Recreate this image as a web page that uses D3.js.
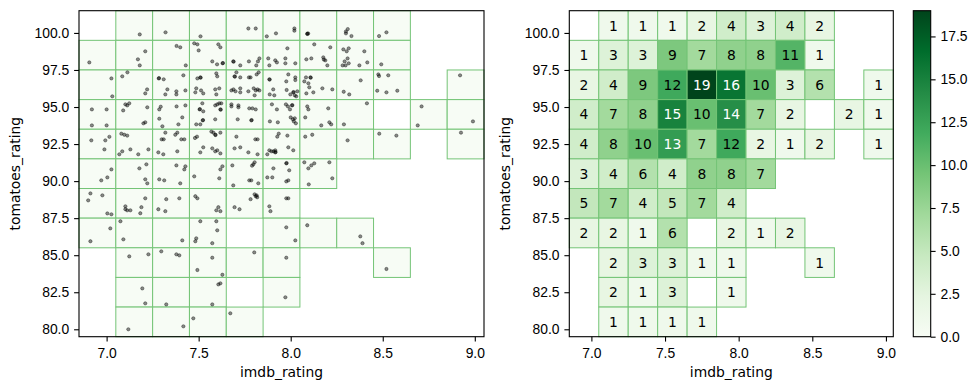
<!DOCTYPE html>
<html><head><meta charset="utf-8">
<script src="https://cdn.jsdelivr.net/npm/d3@7"></script>
<style>
html,body{margin:0;padding:0;background:#fff;}
svg{display:block;font-family:"DejaVu Sans",sans-serif;}
.tick text{font-size:13.89px;fill:#000;}
</style></head>
<body>
<svg id="chart" width="980" height="390"></svg>
<script>
// ---- data ----
const xTicks = [7.0, 7.5, 8.0, 8.5, 9.0];
const yTicks = [80.0, 82.5, 85.0, 87.5, 90.0, 92.5, 95.0, 97.5, 100.0];
const cbTicks = [0.0, 2.5, 5.0, 7.5, 10.0, 12.5, 15.0, 17.5];
const xEdges = [6.85, 7.05, 7.25, 7.45, 7.65, 7.85, 8.05, 8.25, 8.45, 8.65, 8.85, 9.05];
const yEdges = [101.5, 99.5, 97.5, 95.5, 93.5, 91.5, 89.5, 87.5, 85.5, 83.5, 81.5, 79.5];
// counts per cell, rows top (99.5-101.5) to bottom (79.5-81.5), columns left to right
const counts = [
  [0,1,1,1,2,4,3,4,2,0,0],
  [1,3,3,9,7,8,8,11,1,0,0],
  [2,4,9,12,19,16,10,3,6,0,1],
  [4,7,8,15,10,14,7,2,0,2,1],
  [4,8,10,13,7,12,2,1,2,0,1],
  [3,4,6,4,8,8,7,0,0,0,0],
  [5,7,4,5,7,4,0,0,0,0,0],
  [2,2,1,6,0,2,1,2,0,0,0],
  [0,2,3,3,1,1,0,0,1,0,0],
  [0,2,1,3,0,1,0,0,0,0,0],
  [0,1,1,1,1,0,0,0,0,0,0]
];
const greens = ["#f7fcf5","#e5f5e0","#c7e9c0","#a1d99b","#74c476","#41ab5d","#238b45","#006d2c","#00441b"];
const colorMax = 19;
// [imdb_rating, tomatoes_rating]
const points = [
[7.18,99.9],[7.32,100.04],[7.51,99.77],[7.77,100.3],[7.81,100.3],[7.87,99.77],[7.92,99.97],[8.02,100.3],[8.02,100.15],[8.09,99.95],[8.09,99.93],[8.095,99.96],[8.30,100.1],[8.31,100.26],[8.33,99.79],[8.30,99.97],[8.48,99.79],[8.52,100.04],
[6.906,98.01],
[7.17,98.22],[7.18,97.81],[7.21,98.76],
[7.38,99.12],[7.40,99.03],[7.43,97.81],
[7.476,99.30],[7.493,99.23],[7.50,98.82],[7.607,99.23],[7.618,99.03],[7.574,98.08],[7.60,97.88],[7.63,97.95],[7.632,97.97],
[7.688,98.08],[7.69,98.06],[7.726,97.81],[7.773,98.08],[7.813,97.81],[7.822,98.08],[7.83,98.28],
[7.878,98.28],[7.884,97.81],[7.916,98.15],[7.925,98.01],[7.971,98.28],[7.971,97.95],[7.982,98.96],[8.025,97.95],
[8.085,98.22],[8.112,98.28],[8.128,99.23],[8.177,98.35],[8.188,98.15],[8.199,97.81],[8.215,99.03],[8.18,98.2],
[8.286,98.89],[8.304,98.76],[8.315,98.96],[8.293,98.08],[8.309,98.28],[8.282,97.81],[8.298,97.81],[8.315,97.95],[8.373,97.81],[8.40,98.76],[8.416,98.01],
[8.492,97.88],
[7.026,96.93],[7.031,95.72],
[7.085,97.07],[7.113,97.34],[7.21,95.92],[7.22,96.19],
[7.283,96.93],[7.285,96.95],[7.31,96.87],[7.417,97.14],[7.33,96.19],[7.319,95.85],[7.379,96.06],[7.379,95.85],[7.428,96.12],
[7.493,96.93],[7.509,97.0],[7.511,96.98],[7.596,97.27],[7.601,97.07],[7.487,96.26],[7.482,95.99],[7.513,96.12],[7.525,95.92],[7.59,96.19],[7.612,96.26],[7.596,95.85],
[7.695,97.07],[7.697,97.05],[7.705,97.34],[7.726,97.0],[7.773,97.0],[7.782,97.0],[7.815,97.2],[7.826,97.34],[7.678,96.12],[7.689,96.19],[7.70,96.06],[7.726,96.26],[7.726,95.99],[7.799,96.26],[7.81,96.12],[7.82,96.19],[7.83,96.12],[7.804,95.79],[7.77,96.06],
[7.884,96.87],[7.886,96.85],[7.905,96.19],[7.911,95.79],[7.886,95.85],[7.976,96.73],[7.987,97.2],[8.025,97.0],[8.025,96.82],[7.998,95.85],[8.014,95.99],[8.016,96.01],[8.022,95.79],[8.03,95.72],[8.036,96.06],[7.978,96.15],
[8.074,96.73],[8.083,97.0],[8.107,97.0],[8.109,96.98],[8.101,96.33],[8.123,95.99],[8.085,95.92],[8.172,96.26],[8.226,96.19],[8.096,96.6],
[8.288,96.03],[8.318,95.85],[8.38,96.8],
[8.476,97.2],[8.48,97.09],[8.53,97.14],[8.47,96.1],[8.52,95.99],[8.579,96.1],
[8.92,97.14],
[6.92,94.84],[7.0,94.84],[6.92,93.76],[7.0,93.76],
[7.09,94.77],[7.102,95.18],[7.112,95.11],[7.123,95.25],[7.221,94.98],[7.2,93.9],[7.21,93.97],
[7.286,94.84],[7.294,95.02],[7.286,94.21],[7.303,93.7],[7.38,95.04],[7.428,95.11],[7.411,94.3],[7.39,93.83],
[7.52,95.25],[7.505,94.84],[7.507,94.86],[7.525,94.71],[7.59,95.11],[7.601,95.18],[7.612,95.25],[7.623,95.25],[7.618,94.84],[7.62,94.82],[7.522,94.1],[7.524,94.12],[7.509,93.83],[7.487,93.83],[7.59,94.17],
[7.678,95.18],[7.678,95.04],[7.716,95.11],[7.716,94.98],[7.775,94.91],[7.792,94.91],[7.81,94.84],[7.712,94.17],[7.786,94.1],[7.788,94.12],
[7.898,95.18],[7.925,94.84],[7.974,95.18],[7.985,95.04],[8.007,95.11],[8.009,95.13],[7.996,94.84],[7.93,93.97],[7.887,94.03],[8.0,94.3],[8.012,94.17],[8.017,94.03],[8.028,93.9],[8.022,94.24],
[8.09,95.04],[8.096,94.84],[8.079,94.3],[8.166,93.76],[8.204,94.91],[8.21,93.97],[8.22,93.83],
[8.289,93.83],[8.414,95.25],
[8.69,93.76],[8.711,95.04],
[8.99,94.03],
[6.917,92.75],[6.993,92.75],[6.988,92.14],[7.015,92.99],
[7.08,93.2],[7.096,93.13],[7.112,93.07],[7.069,91.81],[7.085,92.01],[7.129,92.14],[7.172,91.81],[7.227,92.14],
[7.319,93.27],[7.299,92.82],[7.31,92.82],[7.373,93.13],[7.384,93.27],[7.406,92.82],[7.422,92.82],[7.281,91.94],[7.308,91.81],[7.384,92.01],
[7.48,92.91],[7.491,93.0],[7.569,93.34],[7.58,93.27],[7.59,93.13],[7.592,93.11],[7.618,93.27],[7.509,91.94],[7.525,92.28],[7.574,92.21],[7.59,92.01],[7.601,92.08],[7.618,91.87],
[7.705,93.0],[7.695,92.21],[7.726,92.28],[7.77,91.94],[7.808,92.82],[7.82,92.82],[7.82,91.81],
[7.927,93.0],[7.935,93.2],[7.982,93.07],[7.884,92.08],[7.895,92.01],[7.906,92.01],[7.916,92.08],[7.916,91.94],[7.918,91.96],[7.873,91.81],[7.987,92.28],[8.014,92.08],
[8.079,93.0],[8.117,93.13],
[8.309,92.75],
[8.481,93.2],[8.574,93.07],
[8.925,93.27],
[6.971,90.05],[7.004,90.25],[7.026,90.79],
[7.178,90.86],[7.216,91.13],[7.21,90.12],[7.221,89.85],
[7.286,90.12],[7.313,90.05],[7.4,89.85],[7.379,91.06],[7.428,91.0],[7.422,90.79],
[7.476,90.32],[7.612,90.19],[7.618,90.79],[7.629,91.0],
[7.683,91.06],[7.688,89.71],[7.775,90.05],[7.786,90.05],[7.797,91.13],[7.804,91.27],[7.79,91.04],[7.824,89.85],
[7.873,90.25],[7.9,90.25],[7.906,90.86],[7.976,89.98],[7.987,90.05],[7.976,91.2],[7.978,91.22],[7.992,90.73],
[8.074,91.27],[8.096,90.86],[8.112,91.06],[8.128,91.2],[8.098,89.78],[8.21,91.27],[8.226,90.19],
[6.9,88.7],[6.912,89.17],[6.977,89.04],[7.004,87.82],[7.026,87.76],
[7.102,88.3],[7.102,88.1],[7.112,88.03],[7.129,88.03],[7.189,88.24],[7.183,87.83],[7.21,88.84],
[7.281,88.1],[7.319,87.97],[7.324,88.78],[7.395,88.84],
[7.482,88.98],[7.493,88.84],[7.607,88.24],[7.596,88.03],[7.618,87.97],
[7.695,88.24],[7.722,88.1],[7.782,88.78],[7.804,89.11],[7.815,89.04],[7.818,88.91],[7.81,88.98],
[7.884,88.3],[7.89,87.97],[7.976,88.84],[7.987,88.84],
[6.912,85.94],[7.02,86.81],
[7.075,87.29],[7.091,86.07],
[7.411,86.0],
[7.509,87.29],[7.482,85.94],[7.487,86.14],[7.596,87.29],[7.601,86.68],[7.574,85.81],
[7.976,86.88],[8.025,86.0],
[8.09,87.02],
[8.378,86.27],[8.39,85.81],
[7.123,84.92],[7.227,85.06],
[7.297,85.26],[7.379,85.06],[7.395,84.99],
[7.493,84.0],[7.574,84.83],[7.629,83.68],
[7.802,85.19],
[7.976,84.83],
[8.52,84.07],
[7.194,82.76],[7.21,81.75],
[7.324,81.68],
[7.607,83.03],[7.618,83.1],[7.574,81.68],
[7.971,82.16],
[7.118,80.0],[7.417,80.2],[7.471,80.74],[7.672,81.08]
];

// ---- layout ----
const svg = d3.select("#chart");
const plotTop = 10.7, plotBottom = 336.7;
const fs = "13.89px";
const panels = [{x0: 79, x1: 484, kind: "scatter"}, {x0: 569.3, x1: 893.3, kind: "heat"}];
const edgeColor = "#74c476";
const color = d3.scaleLinear()
  .domain(greens.map((_, i) => i * colorMax / (greens.length - 1)))
  .range(greens).clamp(true);

const cells = [];
counts.forEach((row, r) => row.forEach((c, k) => {
  if (c > 0) cells.push({x0: xEdges[k], x1: xEdges[k+1], y0: yEdges[r+1], y1: yEdges[r], c});
}));

panels.forEach(p => {
  const x = d3.scaleLinear().domain([xEdges[0], xEdges[xEdges.length-1]]).range([p.x0, p.x1]);
  const y = d3.scaleLinear().domain([yEdges[yEdges.length-1], yEdges[0]]).range([plotBottom, plotTop]);
  const g = svg.append("g");
  g.selectAll("rect.cell").data(cells).join("rect")
    .attr("x", d => x(d.x0)).attr("y", d => y(d.y1))
    .attr("width", d => x(d.x1) - x(d.x0)).attr("height", d => y(d.y0) - y(d.y1))
    .attr("fill", d => p.kind === "scatter" ? greens[0] : color(d.c))
    .attr("stroke", edgeColor).attr("stroke-width", 1);
  if (p.kind === "scatter") {
    g.selectAll("circle").data(points).join("circle")
      .attr("cx", d => x(d[0])).attr("cy", d => y(d[1])).attr("r", 1.65)
      .attr("fill", "#000").attr("fill-opacity", 0.45)
      .attr("stroke", "#000").attr("stroke-opacity", 0.45).attr("stroke-width", 0.8);
  } else {
    g.selectAll("text.lbl").data(cells).join("text")
      .attr("x", d => (x(d.x0) + x(d.x1)) / 2).attr("y", d => (y(d.y0) + y(d.y1)) / 2)
      .attr("text-anchor", "middle").attr("dominant-baseline", "central")
      .style("font-size", fs)
      .attr("fill", d => d.c > 12 ? "#fff" : "#000")
      .text(d => d.c);
  }
  g.append("rect").attr("x", p.x0).attr("y", plotTop).attr("width", p.x1 - p.x0).attr("height", plotBottom - plotTop)
    .attr("fill", "none").attr("stroke", "#000").attr("stroke-width", 1.1);
  const ax = g.append("g").attr("transform", `translate(0,${plotBottom})`)
    .call(d3.axisBottom(x).tickValues(xTicks).tickFormat(d3.format(".1f")).tickSize(4.9).tickPadding(6.7));
  const ay = g.append("g").attr("transform", `translate(${p.x0},0)`)
    .call(d3.axisLeft(y).tickValues(yTicks).tickFormat(d3.format(".1f")).tickSize(4.9).tickPadding(4.9));
  [ax, ay].forEach(a => { a.select(".domain").remove(); a.selectAll("line").attr("stroke", "#000").attr("stroke-width", 1.1); a.selectAll("text").attr("font-family", null).attr("font-size", null); });
  svg.append("text").attr("x", (p.x0 + p.x1) / 2).attr("y", 377)
    .attr("text-anchor", "middle").style("font-size", fs).text("imdb_rating");
  svg.append("text").attr("transform", `translate(${p.x0 - 59},${(plotTop + plotBottom) / 2}) rotate(-90)`)
    .attr("text-anchor", "middle").style("font-size", fs).text("tomatoes_rating");
});

// ---- colorbar ----
const cbX = 913.3, cbW = 17.4;
const defs = svg.append("defs");
const grad = defs.append("linearGradient").attr("id", "cbgrad").attr("x1", 0).attr("y1", 1).attr("x2", 0).attr("y2", 0);
greens.forEach((c, i) => grad.append("stop").attr("offset", i / (greens.length - 1)).attr("stop-color", c));
svg.append("rect").attr("x", cbX).attr("y", plotTop).attr("width", cbW).attr("height", plotBottom - plotTop).attr("fill", "url(#cbgrad)");
svg.append("rect").attr("x", cbX).attr("y", plotTop).attr("width", cbW).attr("height", plotBottom - plotTop)
  .attr("fill", "none").attr("stroke", "#000").attr("stroke-width", 1.1);
const cy = d3.scaleLinear().domain([0, colorMax]).range([plotBottom, plotTop]);
const cax = svg.append("g").attr("transform", `translate(${cbX + cbW},0)`)
  .call(d3.axisRight(cy).tickValues(cbTicks).tickFormat(d3.format(".1f")).tickSize(4.9).tickPadding(4.9));
cax.select(".domain").remove();
cax.selectAll("line").attr("stroke", "#000").attr("stroke-width", 1.1);
cax.selectAll("text").attr("font-family", null).attr("font-size", null);
</script>
</body></html>
